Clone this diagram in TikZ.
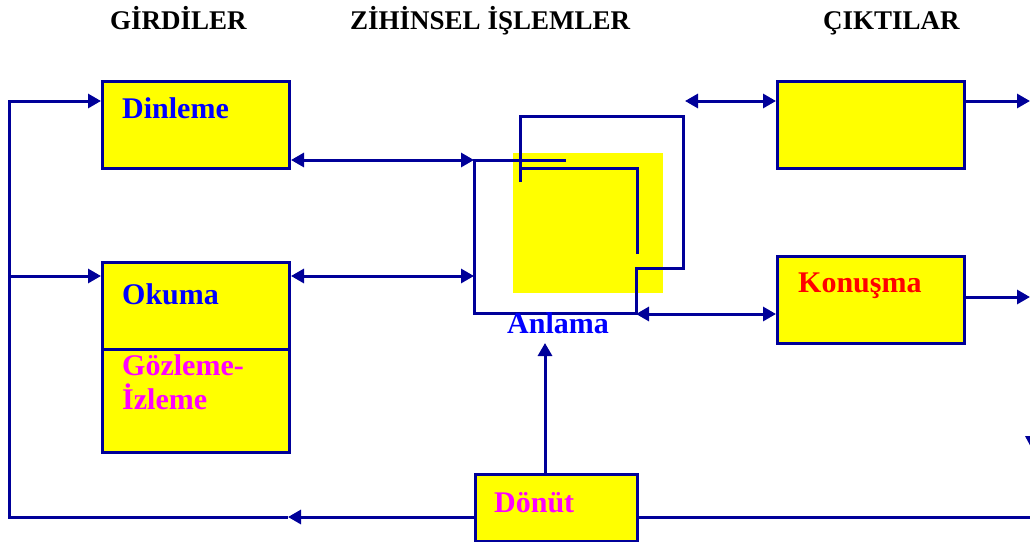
\documentclass[tikz,border=0pt]{standalone}
\usepackage{fontspec}
\setmainfont{Liberation Serif}
\usetikzlibrary{arrows.meta}
\definecolor{navy}{HTML}{000099}
\definecolor{ylw}{HTML}{FFFF00}
\definecolor{txtblue}{HTML}{0000FF}
\definecolor{mag}{HTML}{FF00FF}
\definecolor{rd}{HTML}{FF0000}
\begin{document}
\begin{tikzpicture}[x=1pt,y=-1pt,
  conn/.style={draw=navy,line width=3pt},
  arr/.style={conn,-{Triangle[length=13pt,width=14pt]}},
  darr/.style={conn,{Triangle[length=13pt,width=14pt]}-{Triangle[length=13pt,width=14pt]}},
  box/.style={draw=navy,fill=ylw,line width=3pt,rectangle,inner sep=0pt,anchor=north west},
  lbl/.style={inner sep=0pt,anchor=base west,font=\fontsize{30}{34}\selectfont\bfseries},
  ttl/.style={inner sep=0pt,anchor=base west,font=\fontsize{27}{32}\selectfont\bfseries}]
\useasboundingbox (0,0) rectangle (1030,541);
\clip (0,0) rectangle (1030,541);
% titles
\node[ttl] (t1) at (110,29) {GİRDİLER};
\node[ttl] (t2) at (350,29) {ZİHİNSEL İŞLEMLER};
\node[ttl] (t3) at (823,29) {ÇIKTILAR};
% boxes
\node[box,minimum width=187pt,minimum height=87pt] (din) at (101,80) {};
\node[box,minimum width=187pt,minimum height=87pt] (oku) at (101,261) {};
\node[box,minimum width=187pt,minimum height=103pt] (goz) at (101,348) {};
\node[box,minimum width=187pt,minimum height=87pt] (cik) at (776,80) {};
\node[box,minimum width=187pt,minimum height=87pt] (kon) at (776,255) {};
\node[box,minimum width=162pt,minimum height=67pt] (don) at (474,473) {};
% mental processing block
\fill[ylw] (513,153) rectangle (663,293);
\draw[conn] (566,160) -- (474,160) -- (474,313) -- (636,313) -- (636,268) -- (683,268) -- (683,116) -- (520,116) -- (520,182);
\draw[conn] (520,168) -- (637,168) -- (637,254);
% coordinates
\coordinate (zl1) at (474,160);
\coordinate (zl2) at (474,276);
\coordinate (zr) at (636,314);
\coordinate (zt) at (685,101);
\coordinate (anl) at (545,343);
\coordinate (r1) at (1030,101);
\coordinate (r2) at (1030,297);
\coordinate (b1) at (1030,517);
\coordinate (bm) at (288,517);
\coordinate (bl) at (9,517);
\coordinate (la) at (9,101);
\coordinate (lb) at (9,276);
% connectors
\draw[darr] (din.east |- zl1) -- (zl1);
\draw[darr] (oku.east |- zl2) -- (zl2);
\draw[darr] (zt) -- (cik.west |- zt);
\draw[darr] (zr) -- (kon.west |- zr);
\draw[arr] (cik.east |- r1) -- (r1);
\draw[arr] (kon.east |- r2) -- (r2);
\draw[arr] (anl |- don.north) -- (anl);
\draw[conn] (don.east |- b1) -- (b1);
\draw[arr] (don.west |- bm) -- (bm);
\draw[arr] (bm) -- (bl) -- (la) -- (din.west |- la);
\draw[arr] (lb) -- (oku.west |- lb);
\fill[navy] (1025,436) -- (1039,436) -- (1032,449) -- cycle;
% labels
\node[lbl,text=txtblue] (ldin) at (122,118) {Dinleme};
\node[lbl,text=txtblue] (loku) at (122,304) {Okuma};
\node[lbl,text=mag] (lgoz1) at (122,375) {Gözleme-};
\node[lbl,text=mag] (lgoz2) at (122,409) {İzleme};
\node[lbl,text=rd] (lkon) at (798,292) {Konuşma};
\node[lbl,text=txtblue] (lanl) at (507,333) {Anlama};
\node[lbl,text=mag] (ldon) at (494,512) {Dönüt};
\end{tikzpicture}
\end{document}
